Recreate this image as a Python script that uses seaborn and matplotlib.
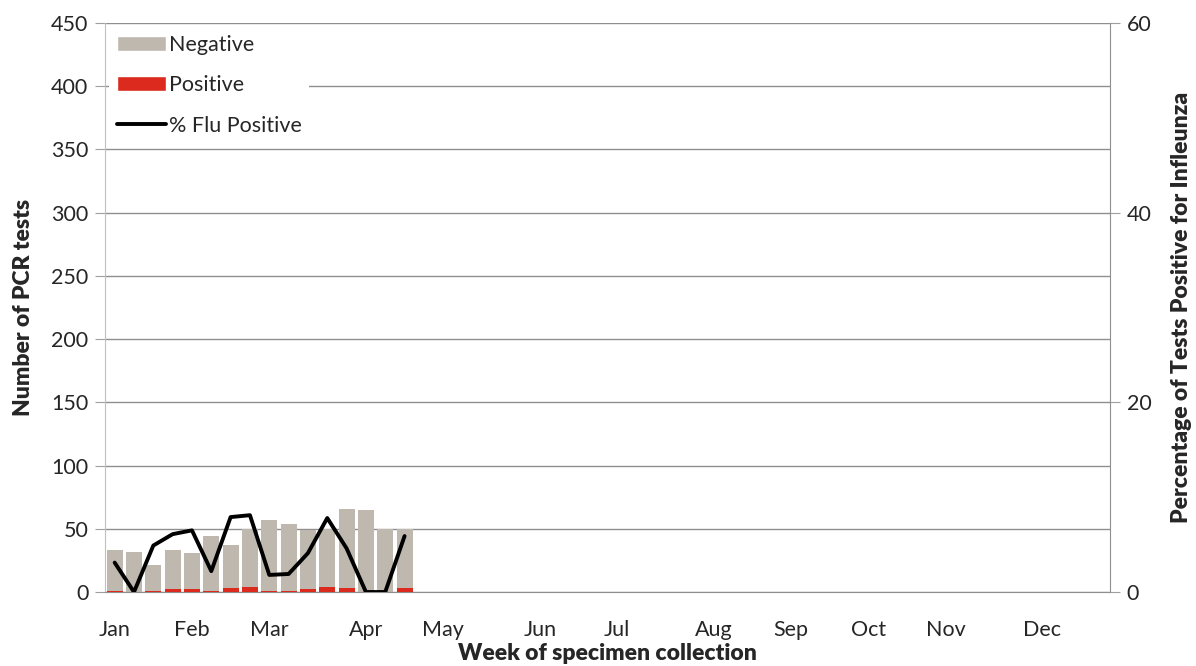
import numpy as np
import pandas as pd
import matplotlib
matplotlib.use("Agg")
import matplotlib.pyplot as plt
import seaborn as sns
from matplotlib.patches import Patch
from matplotlib.lines import Line2D
from matplotlib.ticker import FixedLocator

# data (weeks with data: 1-16)
weeks = list(range(16))
total_tests = [33, 32, 21, 33, 31, 44, 37, 50, 57, 54, 49, 50, 66, 65, 50, 50]
positive = [1, 0, 1, 2, 2, 1, 3, 4, 1, 1, 2, 4, 3, 0, 0, 3]
pct_positive = [3.1, 0.0, 4.9, 6.1, 6.5, 2.2, 7.9, 8.1, 1.8, 1.9, 4.1, 7.8, 4.6, 0.0, 0.0, 5.9]

months = ['Jan', 'Feb', 'Mar', 'Apr', 'May', 'Jun', 'Jul', 'Aug', 'Sep', 'Oct', 'Nov', 'Dec']
month_weeks = [0, 4, 8, 13, 17, 22, 26, 31, 35, 39, 43, 48]
n_weeks = 52

neg_color = '#BFB8AF'
pos_color = '#DC2A1E'

sns.set_style('white')
plt.rcParams['font.family'] = ['Lato', 'DejaVu Sans']

df = pd.DataFrame({'week': weeks, 'total': total_tests, 'positive': positive, 'pct': pct_positive})

fig = plt.figure(figsize=(11.96, 6.66), dpi=100)
ax = fig.add_axes([105 / 1196, 1 - 592 / 666, (1110 - 105) / 1196, (592 - 23) / 666])

order = list(range(n_weeks))
sns.barplot(data=df, x='week', y='total', order=order, color=neg_color, width=0.83,
            saturation=1, linewidth=0, ax=ax, zorder=2)
sns.barplot(data=df, x='week', y='positive', order=order, color=pos_color, width=0.83,
            saturation=1, linewidth=0, ax=ax, zorder=3)

ax.set_xlim(-0.5, n_weeks - 0.5)
ax.set_ylim(0, 450)
ax.set_yticks(range(0, 451, 50))
ax.yaxis.grid(True, color='#8f8f8f', linewidth=1)
ax.set_axisbelow(True)
ax.set_xticks(month_weeks)
ax.set_xticklabels(months, fontsize=15.5)
ax.xaxis.set_minor_locator(FixedLocator(np.arange(-0.5, n_weeks, 1)))
ax.tick_params(axis='x', which='major', length=0, pad=20)
ax.tick_params(axis='x', which='minor', length=7, color='#a0a0a0', width=1, direction='out')
ax.tick_params(axis='y', length=7, color='#a0a0a0', labelsize=15.5, left=True, direction='out', pad=5)
for s in ['top', 'right']:
    ax.spines[s].set_visible(False)
ax.spines['left'].set_color('#c0c0c0')
ax.spines['bottom'].set_color('#8f8f8f')
ax.set_xlabel('Week of specimen collection', fontsize=16.5, fontweight='heavy', labelpad=2)
ax.set_ylabel('Number of PCR tests', fontsize=16.5, fontweight='heavy', labelpad=12)

ax2 = ax.twinx()
sns.lineplot(data=df, x='week', y='pct', color='black', linewidth=2.8, ax=ax2, zorder=5)
ax2.set_ylim(0, 60)
ax2.set_yticks([0, 20, 40, 60])
ax2.tick_params(axis='y', length=7, color='#a0a0a0', labelsize=15.5, right=True, direction='out', pad=5)
for s in ['top', 'left', 'bottom']:
    ax2.spines[s].set_visible(False)
ax2.spines['right'].set_color('#8f8f8f')
ax2.set_ylabel('Percentage of Tests Positive for Infleunza', fontsize=16.5, fontweight='heavy', labelpad=14)
ax2.set_xlim(-0.5, n_weeks - 0.5)

handles = [Patch(facecolor=neg_color, label='Negative'),
           Patch(facecolor=pos_color, label='Positive'),
           Line2D([0], [0], color='black', linewidth=2.8, label='% Flu Positive')]
leg = ax2.legend(handles=handles, loc='upper left', bbox_to_anchor=(0.0, 1.0), fontsize=15.5,
                 frameon=True, framealpha=1, edgecolor='white', fancybox=False,
                 handlelength=2.3, handletextpad=0.1, labelspacing=0.95, borderpad=0.35,
                 borderaxespad=0.2)
leg.get_frame().set_linewidth(0)
leg.set_zorder(10)

fig.savefig('out.png', dpi=100)
